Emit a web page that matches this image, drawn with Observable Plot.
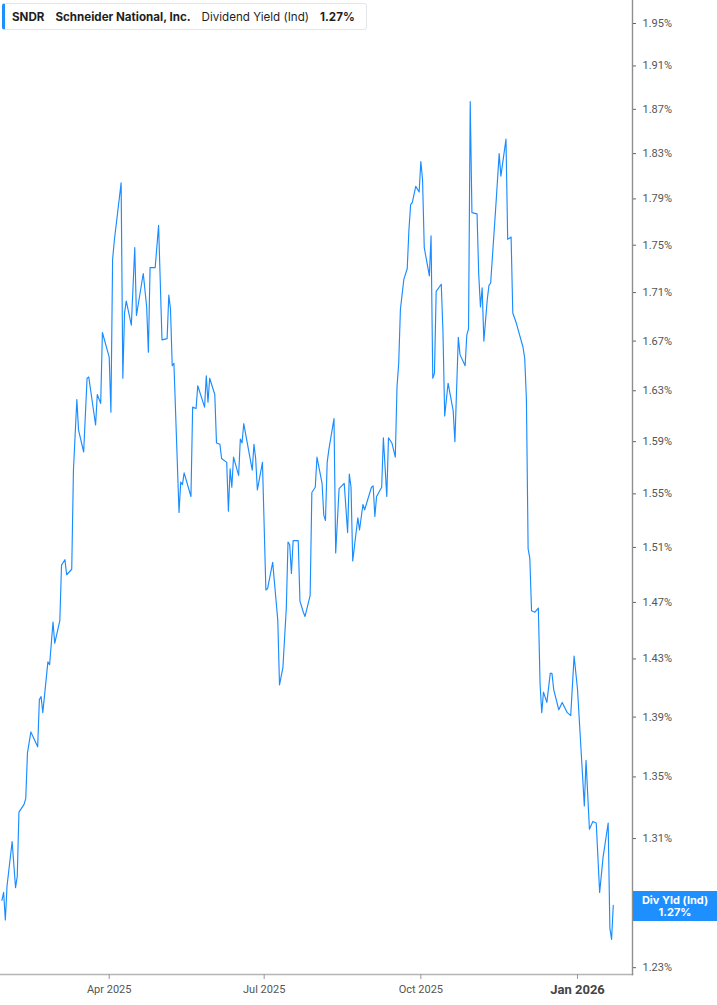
<!DOCTYPE html>
<html>
<head>
<meta charset="utf-8">
<script src="https://cdn.jsdelivr.net/npm/d3@7"></script>
<script src="https://cdn.jsdelivr.net/npm/@observablehq/plot@0.6"></script>
<style>
  html, body { margin: 0; padding: 0; background: #fff; }
  #wrap { position: relative; width: 717px; height: 1005px; overflow: hidden; font-family: Inter, Roboto, "Noto Sans", sans-serif; }
  #chart { position: absolute; left: 0; top: 0; }
  #hdr { position: absolute; left: 2px; top: 3px; height: 27px; width: 365px; box-sizing: border-box;
         border: 1px solid #e4e6ea; border-left: 3px solid #1e8fff; border-radius: 3px; background: #fff;
         display: flex; align-items: center; padding-left: 7px; font-size: 11.6px; color: #1f1f1f; white-space: nowrap; }
  #hdr span { margin-right: 11px; }
  #hdr .b { font-weight: 700; }
  #tag { position: absolute; left: 633px; width: 84px; height: 30px; background: #1e8fff; color: #fff;
         font-family: Inter, Roboto, sans-serif; font-weight: 700; font-size: 11px; line-height: 12px;
         display: flex; flex-direction: column; align-items: center; justify-content: center; }
</style>
</head>
<body>
<div id="wrap">
  <div id="chart"></div>
  <div id="hdr"></div>
  <div id="tag"></div>
</div>
<script>
// ---- Data ----
const ticker = "SNDR";
const company = "Schneider National, Inc.";
const metric = "Dividend Yield (Ind)";
const tagLabel = "Div Yld (Ind)";
const currentValue = 1.27;

const dates = [
  "2025-01-28","2025-01-29","2025-01-30","2025-01-31","2025-02-03","2025-02-05","2025-02-06","2025-02-07",
  "2025-02-10","2025-02-11","2025-02-12","2025-02-14","2025-02-18","2025-02-19","2025-02-20","2025-02-21",
  "2025-02-24","2025-02-25","2025-02-27","2025-02-28","2025-03-03","2025-03-04","2025-03-06","2025-03-07",
  "2025-03-10","2025-03-11","2025-03-13","2025-03-14","2025-03-17","2025-03-19","2025-03-20","2025-03-24",
  "2025-03-25","2025-03-27","2025-03-28","2025-04-01","2025-04-02","2025-04-03","2025-04-04","2025-04-08",
  "2025-04-09","2025-04-10","2025-04-11","2025-04-14","2025-04-16","2025-04-17","2025-04-21","2025-04-23",
  "2025-04-24","2025-04-25","2025-04-28","2025-04-30","2025-05-02","2025-05-05","2025-05-06","2025-05-07",
  "2025-05-08","2025-05-09","2025-05-12","2025-05-13","2025-05-14","2025-05-15","2025-05-19","2025-05-20",
  "2025-05-22","2025-05-23","2025-05-27","2025-05-28","2025-05-29","2025-05-30","2025-06-02","2025-06-03",
  "2025-06-05","2025-06-06","2025-06-09","2025-06-10","2025-06-11","2025-06-12","2025-06-13","2025-06-16",
  "2025-06-17","2025-06-18","2025-06-19","2025-06-24","2025-06-25","2025-06-26","2025-06-27","2025-06-30",
  "2025-07-02","2025-07-03","2025-07-06","2025-07-08","2025-07-09","2025-07-10","2025-07-12","2025-07-14",
  "2025-07-15","2025-07-16","2025-07-17","2025-07-18","2025-07-21","2025-07-22","2025-07-24","2025-07-25",
  "2025-07-28","2025-07-29","2025-07-31","2025-08-01","2025-08-04","2025-08-05","2025-08-06","2025-08-07",
  "2025-08-08","2025-08-11","2025-08-12","2025-08-14","2025-08-17","2025-08-19","2025-08-20","2025-08-21",
  "2025-08-22","2025-08-25","2025-08-26","2025-08-28","2025-08-29","2025-09-02","2025-09-03","2025-09-04",
  "2025-09-05","2025-09-08","2025-09-09","2025-09-11","2025-09-12","2025-09-14","2025-09-16","2025-09-17",
  "2025-09-18","2025-09-19","2025-09-21","2025-09-23","2025-09-24","2025-09-25","2025-09-26","2025-09-28",
  "2025-09-30","2025-10-01","2025-10-02","2025-10-03","2025-10-05","2025-10-06","2025-10-07","2025-10-08",
  "2025-10-09","2025-10-10","2025-10-13","2025-10-14","2025-10-15","2025-10-17","2025-10-20","2025-10-21",
  "2025-10-23","2025-10-24","2025-10-27","2025-10-28","2025-10-29","2025-10-30","2025-10-31","2025-11-03",
  "2025-11-04","2025-11-05","2025-11-06","2025-11-07","2025-11-09","2025-11-10","2025-11-11","2025-11-14",
  "2025-11-16","2025-11-17","2025-11-20","2025-11-21","2025-11-23","2025-11-24","2025-11-26","2025-11-27",
  "2025-11-30","2025-12-01","2025-12-02","2025-12-03","2025-12-04","2025-12-05","2025-12-07","2025-12-09",
  "2025-12-10","2025-12-11","2025-12-12","2025-12-14","2025-12-16","2025-12-17","2025-12-18","2025-12-21",
  "2025-12-23","2025-12-26","2025-12-28","2025-12-30","2026-01-01","2026-01-05","2026-01-06","2026-01-08",
  "2026-01-10","2026-01-12","2026-01-14","2026-01-16","2026-01-19","2026-01-20","2026-01-21","2026-01-22"
];

const values = [
  1.271,1.276,1.259,1.280,1.308,1.279,1.286,1.327,
  1.332,1.336,1.366,1.380,1.370,1.402,1.404,1.393,
  1.428,1.426,1.456,1.441,1.457,1.497,1.501,1.490,
  1.494,1.568,1.623,1.599,1.582,1.640,1.641,1.603,
  1.627,1.620,1.677,1.657,1.613,1.738,1.754,1.804,
  1.640,1.693,1.703,1.683,1.748,1.691,1.726,1.698,
  1.661,1.731,1.731,1.767,1.671,1.672,1.708,1.696,
  1.650,1.652,1.536,1.559,1.557,1.566,1.548,1.617,
  1.616,1.634,1.617,1.642,1.621,1.640,1.627,1.589,
  1.588,1.577,1.574,1.537,1.569,1.555,1.578,1.564,
  1.592,1.589,1.604,1.568,1.588,1.577,1.553,1.574,
  1.479,1.480,1.499,1.471,1.457,1.412,1.424,1.466,
  1.514,1.512,1.491,1.515,1.515,1.471,1.463,1.460,
  1.475,1.551,1.555,1.578,1.558,1.534,1.530,1.574,
  1.584,1.608,1.506,1.554,1.558,1.521,1.565,1.555,
  1.500,1.532,1.523,1.542,1.538,1.555,1.556,1.533,
  1.548,1.555,1.593,1.548,1.593,1.589,1.578,1.633,
  1.652,1.696,1.721,1.730,1.763,1.785,1.787,1.801,
  1.796,1.823,1.807,1.748,1.732,1.724,1.758,1.640,
  1.644,1.711,1.717,1.677,1.610,1.636,1.614,1.590,
  1.673,1.659,1.650,1.675,1.680,1.877,1.778,1.777,
  1.725,1.698,1.714,1.670,1.704,1.716,1.718,1.783,
  1.830,1.810,1.843,1.755,1.757,1.693,1.685,1.680,
  1.665,1.656,1.623,1.509,1.502,1.464,1.463,1.466,
  1.413,1.393,1.407,1.400,1.420,1.420,1.409,1.395,
  1.400,1.393,1.391,1.432,1.409,1.331,1.361,1.316,
  1.321,1.320,1.276,1.298,1.320,1.254,1.247,1.268
];

// 1.27% tick sits under the current-value tag in the reference, so it is not drawn
const yTickValues = [1.23,1.31,1.35,1.39,1.43,1.47,1.51,1.55,1.59,1.63,1.67,1.71,1.75,1.79,1.83,1.87,1.91,1.95];
const xTickDates = ["2025-04-01","2025-07-01","2025-10-01"];
const xTickYearDates = ["2026-01-01"];
const xDomain = ["2025-01-27T04:00:00Z","2026-02-02T07:00:00Z"];
const yDomain = [1.2259, 1.972];

// ---- Build ----
const data = dates.map((d, i) => ({date: new Date(d), value: values[i]}));

const plot = Plot.plot({
  width: 717,
  height: 1005,
  marginLeft: 0,
  marginRight: 85,
  marginTop: 0,
  marginBottom: 31,
  style: {fontFamily: "Roboto, Inter, sans-serif", background: "transparent", overflow: "visible"},
  x: {type: "utc", domain: xDomain.map(d => new Date(d))},
  y: {type: "log", domain: yDomain},
  marks: [
    Plot.line(data, {x: "date", y: "value", stroke: "#1a8cff", strokeWidth: 1.15, curve: "linear"}),
    Plot.frame({anchor: "bottom", stroke: "#b5b5b5", strokeWidth: 1.6}),
    Plot.frame({anchor: "right", stroke: "#8f8f8f", strokeWidth: 1.4}),
    Plot.axisY({
      anchor: "right", ticks: yTickValues, tickSize: 3, tickPadding: 7,
      tickFormat: d => d.toFixed(2) + "%", fontSize: 11, color: "#555", stroke: "#666", label: null
    }),
    Plot.axisX({
      ticks: xTickDates.map(d => new Date(d)), tickSize: 5, tickPadding: 6,
      tickFormat: d3.utcFormat("%b %Y"), fontSize: 11, color: "#555", stroke: "#999", label: null
    }),
    Plot.axisX({
      ticks: xTickYearDates.map(d => new Date(d)), tickSize: 5, tickPadding: 5,
      tickFormat: d3.utcFormat("%b %Y"), fontSize: 13, fontWeight: 700, color: "#444", stroke: "#999", label: null
    })
  ]
});
document.getElementById("chart").appendChild(plot);

// header box
const hdr = document.getElementById("hdr");
[[ticker, "b"], [company, "b"], [metric, ""], [currentValue.toFixed(2) + "%", "b"]].forEach(([t, c]) => {
  const s = document.createElement("span");
  s.textContent = t;
  if (c) s.className = c;
  hdr.appendChild(s);
});

// current value tag positioned with the plot's y scale
const yPos = plot.scale("y").apply(currentValue);
const tag = document.getElementById("tag");
tag.style.top = (yPos - 11) + "px";
tag.innerHTML = "<div>" + tagLabel + "</div><div>" + currentValue.toFixed(2) + "%</div>";
</script>
</body>
</html>
